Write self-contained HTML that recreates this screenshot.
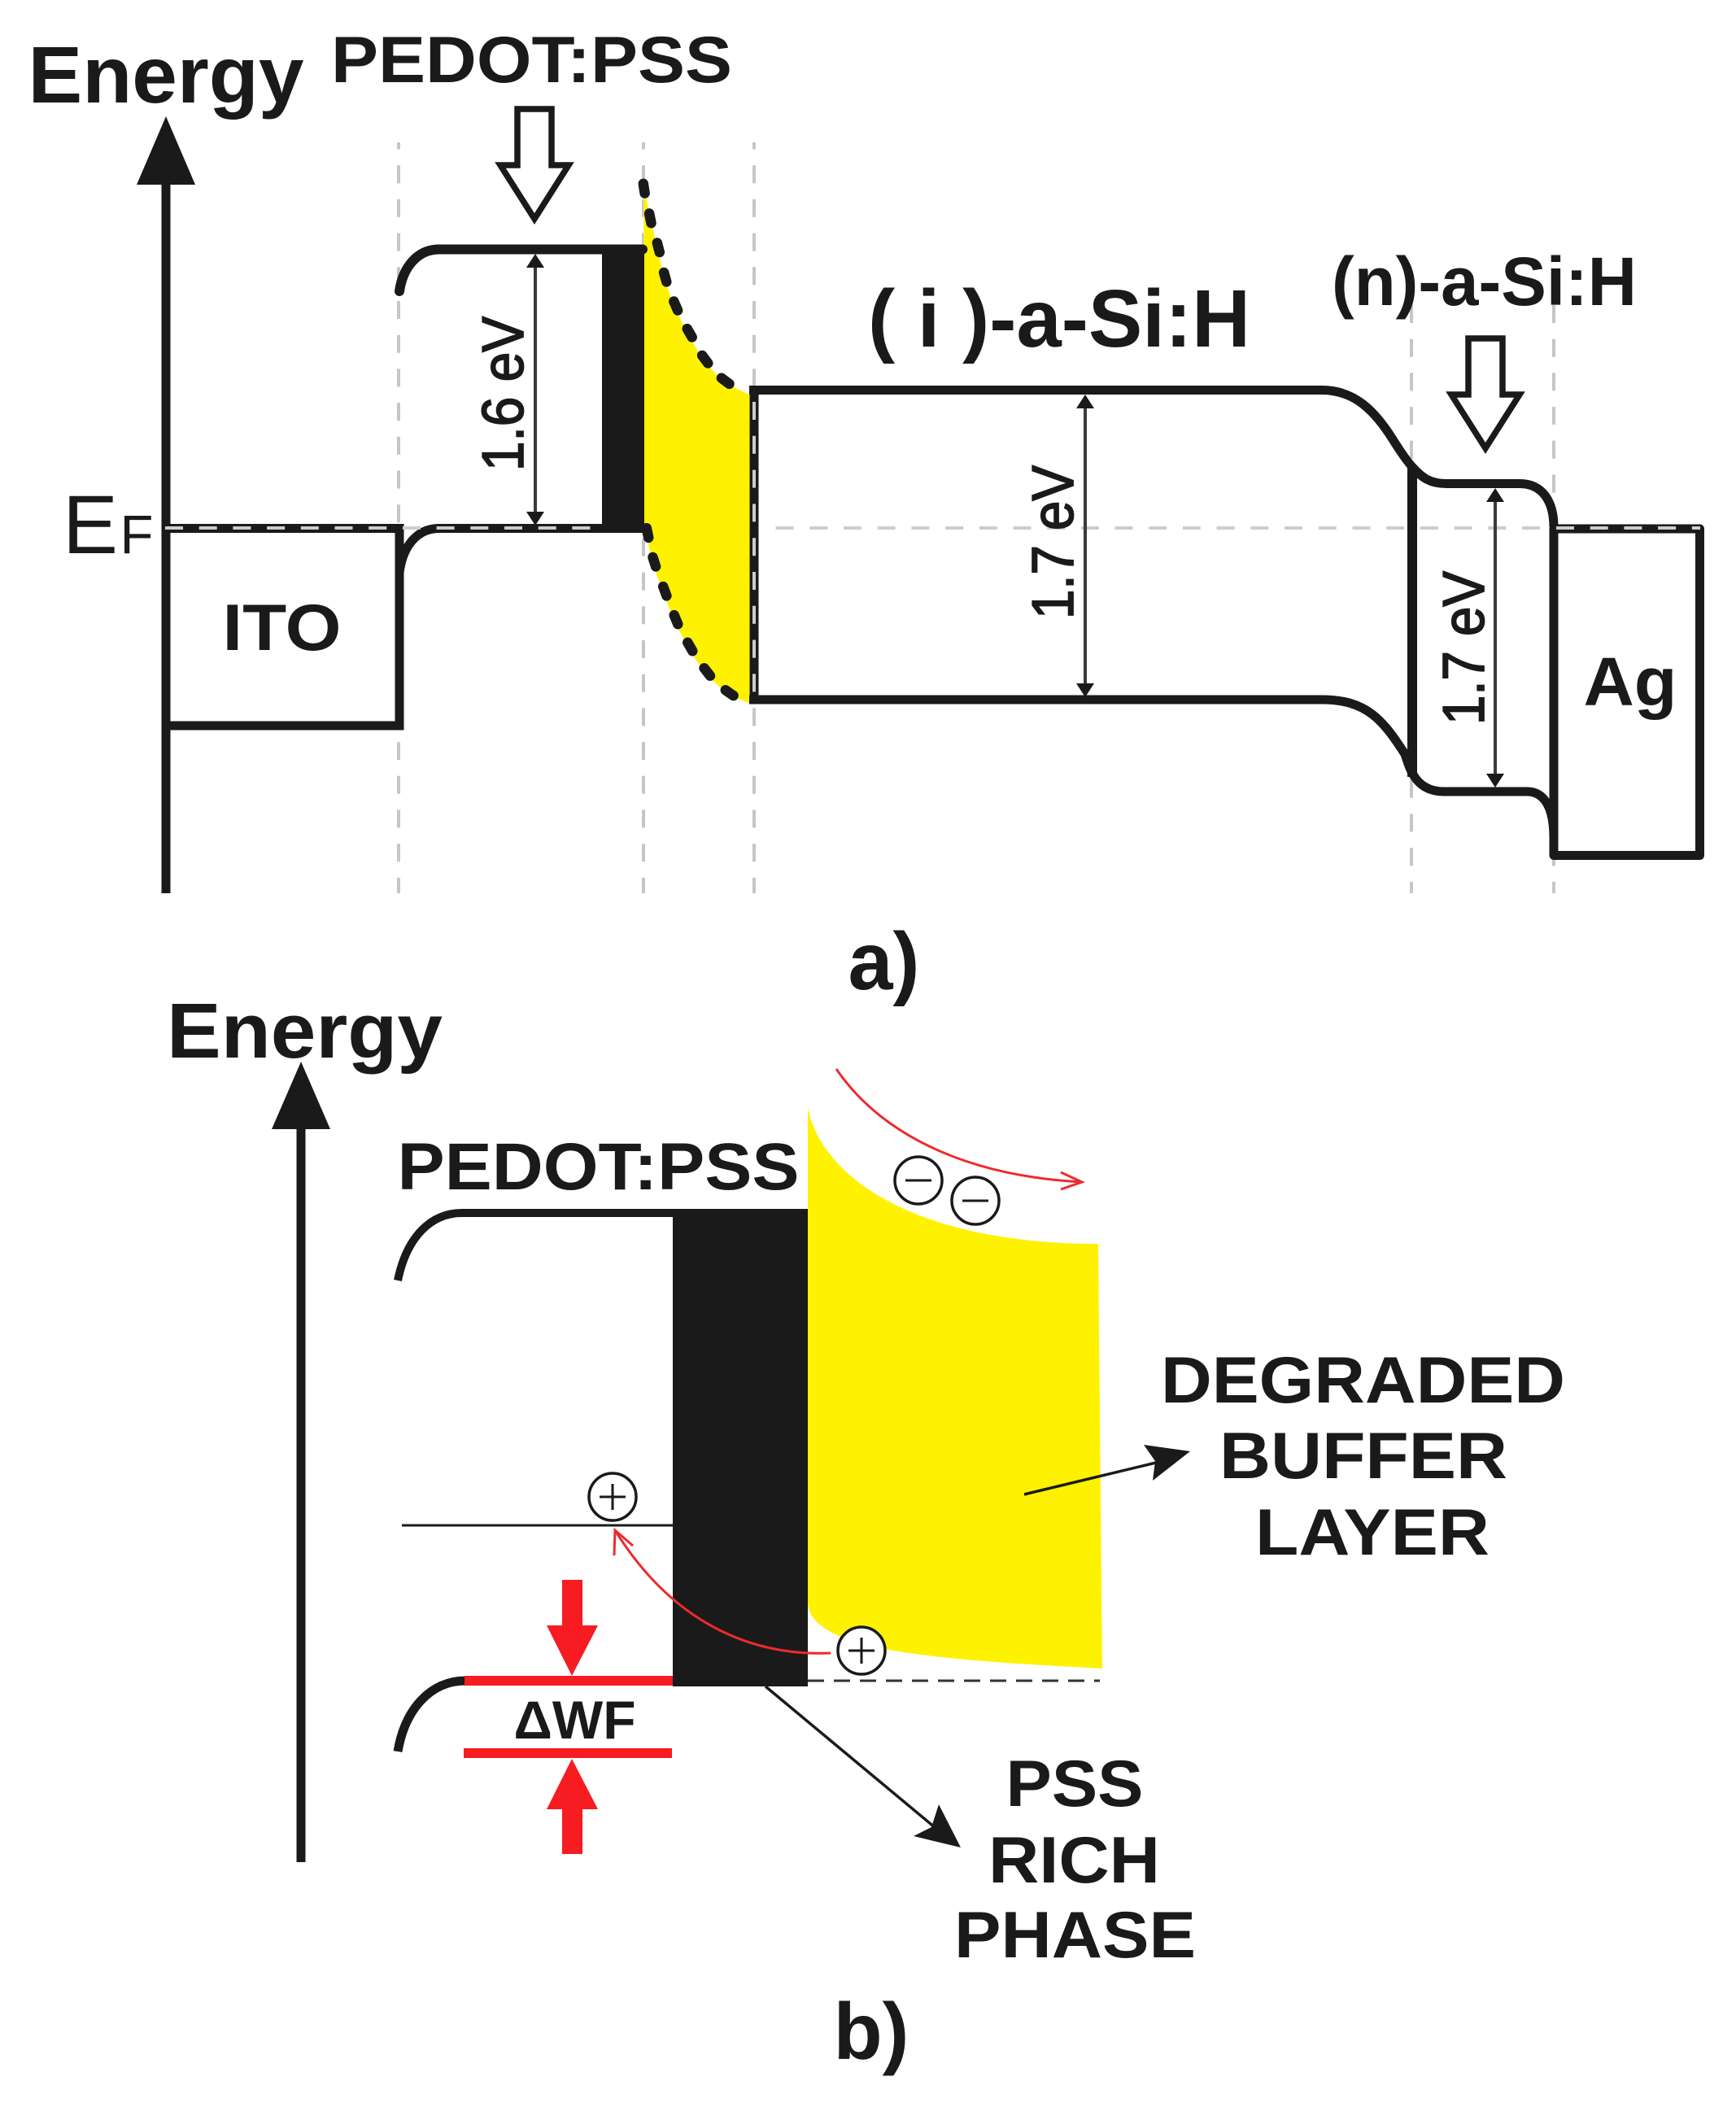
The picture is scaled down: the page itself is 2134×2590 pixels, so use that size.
<!DOCTYPE html>
<html>
<head>
<meta charset="utf-8">
<style>
html,body{margin:0;padding:0;background:#fff;}
svg{display:block;}
text{font-family:"Liberation Sans",sans-serif;fill:#1a1a1a;}
.b{font-weight:bold;}
</style>
</head>
<body>
<svg xmlns="http://www.w3.org/2000/svg" width="2134" height="2590" viewBox="0 0 2134 2590">
<rect width="2134" height="2590" fill="#fff"/>

<!-- PANEL A -->
<!-- dashed verticals -->
<g stroke="#c6c6c6" stroke-width="4" stroke-dasharray="22,19.7" stroke-dashoffset="13.5" fill="none">
<line x1="490" y1="175" x2="490" y2="1098"/>
<line x1="791" y1="175" x2="791" y2="1098"/>
<line x1="927" y1="175" x2="927" y2="1098"/>
<line x1="1735" y1="375" x2="1735" y2="1098" stroke-dashoffset="0"/>
<line x1="1910" y1="375" x2="1910" y2="1098" stroke-dashoffset="0"/>
</g>

<!-- yellow region -->
<path d="M791,225 L799,268 L808,304 L816,341 L829,378 L846,411 L865,444 L890,470 L925,487 L925,866 L895,854 L867,828 L846,797 L829,763 L815,728 L802,692 L794,655 L792,640 Z" fill="#fff200"/>

<!-- axis -->
<line x1="204" y1="200" x2="204" y2="1098" stroke="#1a1a1a" stroke-width="11"/>
<polygon points="204,143 240,227 168,227" fill="#1a1a1a"/>

<!-- fermi level dash overlay (under the bands) -->
<g stroke="#cdcdcd" stroke-width="4" fill="none">
<line x1="953.6" y1="649" x2="1905" y2="649" stroke-dasharray="22,19.7"/>
</g>

<g fill="none" stroke="#1a1a1a" stroke-width="11">
<!-- ITO box -->
<path d="M204,649.5 H491 V892 H204"/>
<!-- PEDOT -->
<path d="M491,358 C495,330 512,306.5 540,306.5 H790" stroke-linecap="round" stroke-width="12"/>
<path d="M491,704 C495,672 512,649.5 540,649.5 H792"/>
<!-- i layer -->
<path d="M921,479.5 H1625 C1665,479.5 1690,505 1712,540 C1722,556 1730,568 1738,576 C1748,587 1758,594.5 1778,594.5 H1868 C1895,594.5 1910,615 1910,648"/>
<path d="M921,860 H1625 C1680,860 1700,885 1727,927 C1733,945 1740,973 1775,973 H1877 C1898,973 1910,992 1910,1030"/>
<line x1="927" y1="476" x2="927" y2="864"/>
<line x1="1736" y1="572" x2="1736" y2="955" stroke-width="12"/>
<!-- Ag box -->
<path d="M1910,650 H2089.5 V1051.5 H1910 Z" stroke-linejoin="round"/>
</g>

<!-- fermi dashes over metal tops -->
<g stroke="#cdcdcd" stroke-width="4" fill="none">
<line x1="203" y1="649" x2="740" y2="649" stroke-dasharray="22,19.7"/>
<line x1="1913" y1="649" x2="2090" y2="649" stroke-dasharray="22,19.7"/>
<line x1="927" y1="494" x2="927" y2="860" stroke-dasharray="22,19.8"/>
</g>

<!-- black bar -->
<rect x="740" y="302" width="52" height="351" fill="#1a1a1a"/>

<!-- dashed band edges -->
<g fill="none" stroke="#1a1a1a" stroke-width="12.5" stroke-linecap="round">
<path d="M790.8,225.8 L792.6,237.6 M798.1,262.4 L800.5,274.2 M807.8,298.5 L810.8,310.1 M816.1,335 L819.3,346.4 M828.3,370.5 L833.1,381.5 M844.7,404.1 L850.7,414.5 M863.1,436.9 L870.3,446.5 M886.9,464.7 L896.5,471.9"/>
<path d="M794.8,649.1 L797.2,660.9 M802.5,685 L806.1,696.4 M815.2,721 L819.4,732.4 M828.7,756.2 L833.3,767.2 M845.3,789.8 L851.3,800.2 M865.6,821.3 L873,830.7 M891.8,848.3 L901.6,855.1"/>
</g>

<!-- hollow arrows -->
<polygon points="636,134 678,134 678,203 699,203 657,269 615,203 636,203" fill="#fff" stroke="#1a1a1a" stroke-width="7.5"/>
<polygon points="1805,416 1847,416 1847,485 1868,485 1826,551 1784,485 1805,485" fill="#fff" stroke="#1a1a1a" stroke-width="7.5"/>

<!-- double arrows -->
<g stroke="#3a3a3a" stroke-width="4" fill="#1a1a1a">
<line x1="658" y1="322" x2="658" y2="638"/>
<polygon stroke="none" points="658,312 669,329 647,329"/>
<polygon stroke="none" points="658,646 669,629 647,629"/>
<line x1="1334" y1="495" x2="1334" y2="848"/>
<polygon stroke="none" points="1334,485 1345,502 1323,502"/>
<polygon stroke="none" points="1334,857 1345,840 1323,840"/>
<line x1="1838" y1="608" x2="1838" y2="960"/>
<polygon stroke="none" points="1838,600 1849,617 1827,617"/>
<polygon stroke="none" points="1838,968 1849,951 1827,951"/>
</g>

<!-- panel A text -->
<text class="b" x="34.5" y="126" font-size="98" textLength="339" lengthAdjust="spacingAndGlyphs">Energy</text>
<text class="b" x="407" y="101" font-size="81" textLength="493" lengthAdjust="spacingAndGlyphs">PEDOT:PSS</text>
<text x="77" y="680" font-size="102">E</text>
<text x="147.5" y="680" font-size="67">F</text>
<text class="b" x="273.5" y="799" font-size="81" textLength="146" lengthAdjust="spacingAndGlyphs">ITO</text>
<text class="b" x="1067" y="426" font-size="100" textLength="470" lengthAdjust="spacingAndGlyphs">( i )-a-Si:H</text>
<text class="b" x="1637" y="375" font-size="84" textLength="375" lengthAdjust="spacingAndGlyphs">(n)-a-Si:H</text>
<text class="b" x="1946.5" y="867" font-size="84" textLength="115" lengthAdjust="spacingAndGlyphs">Ag</text>
<text transform="translate(643,579) rotate(-90)" font-size="72" textLength="190" lengthAdjust="spacingAndGlyphs" stroke="#1a1a1a" stroke-width="1.8">1.6 eV</text>
<text transform="translate(1319,761) rotate(-90)" font-size="72" textLength="189" lengthAdjust="spacingAndGlyphs" stroke="#1a1a1a" stroke-width="1.8">1.7 eV</text>
<text transform="translate(1824,891) rotate(-90)" font-size="72" textLength="189" lengthAdjust="spacingAndGlyphs" stroke="#1a1a1a" stroke-width="1.8">1.7 eV</text>
<text class="b" x="1042.5" y="1216" font-size="100" textLength="88" lengthAdjust="spacingAndGlyphs">a)</text>

<!-- PANEL B -->
<line x1="370" y1="1370" x2="370" y2="2289" stroke="#1a1a1a" stroke-width="11"/>
<polygon points="370,1305 406,1388 334,1388" fill="#1a1a1a"/>

<!-- yellow -->
<path d="M993,1361 C1010,1450 1130,1529 1350,1529 L1355,2051 C1150,2040 1000,2030 993,1972 Z" fill="#fff200"/>

<!-- black rect -->
<rect x="827" y="1491" width="166" height="582" fill="#1a1a1a"/>
<path d="M489,1574 C500,1520 530,1491 568,1491 H993" fill="none" stroke="#1a1a1a" stroke-width="10"/>
<path d="M489,2153 C498,2100 530,2066 572,2066" fill="none" stroke="#1a1a1a" stroke-width="11"/>
<line x1="494" y1="1875" x2="827" y2="1875" stroke="#1a1a1a" stroke-width="3"/>
<line x1="993" y1="2066" x2="1352" y2="2066" stroke="#333" stroke-width="3" stroke-dasharray="20,12"/>

<!-- red -->
<line x1="571" y1="2066" x2="827" y2="2066" stroke="#f61c22" stroke-width="12"/>
<line x1="570" y1="2155" x2="826" y2="2155" stroke="#f61c22" stroke-width="12"/>
<polygon points="691,1942 716,1942 716,1998 735,1998 703,2060 672,1998 691,1998" fill="#f61c22"/>
<polygon points="703,2162 735,2224 716,2224 716,2279 691,2279 691,2224 672,2224" fill="#f61c22"/>

<g fill="none" stroke="#ed2a2e" stroke-width="3">
<path d="M1021,2032 C930,2036 830,2000 756,1881"/>
<path d="M755,1912 L756,1881 L778,1900"/>
<path d="M1028,1314 C1080,1390 1180,1445 1330,1453"/>
<path d="M1304,1441 L1330,1453 L1304,1462"/>
</g>

<!-- charges -->
<g fill="#fff" stroke="#1a1a1a" stroke-width="3.5">
<circle cx="753" cy="1840" r="29"/>
<circle cx="1059" cy="2029" r="29"/>
<circle cx="1129" cy="1451" r="29"/>
<circle cx="1199" cy="1476" r="29"/>
</g>
<g stroke="#1a1a1a" stroke-width="3" fill="none">
<path d="M737,1840 H769 M753,1824 V1856"/>
<path d="M1043,2029 H1075 M1059,2013 V2045"/>
<path d="M1113,1451 H1145"/>
<path d="M1183,1476 H1215"/>
</g>

<!-- black arrows -->
<line x1="1259" y1="1837" x2="1425" y2="1797" stroke="#1a1a1a" stroke-width="3.5"/>
<polygon points="1463,1784 1406,1776 1420,1796 1417,1820" fill="#1a1a1a"/>
<path d="M941,2073 L1150,2247" stroke="#1a1a1a" stroke-width="3.5" fill="none"/>
<polygon points="1181,2271 1154,2218 1145,2246 1123,2257" fill="#1a1a1a"/>

<!-- panel B text -->
<text class="b" x="205" y="1300" font-size="96" textLength="339" lengthAdjust="spacingAndGlyphs">Energy</text>
<text class="b" x="488.5" y="1462" font-size="82" textLength="494" lengthAdjust="spacingAndGlyphs">PEDOT:PSS</text>
<text class="b" x="631.5" y="2137" font-size="66" textLength="150" lengthAdjust="spacingAndGlyphs">ΔWF</text>
<text class="b" x="1427" y="1724" font-size="81" textLength="497" lengthAdjust="spacingAndGlyphs">DEGRADED</text>
<text class="b" x="1499" y="1817" font-size="81" textLength="354" lengthAdjust="spacingAndGlyphs">BUFFER</text>
<text class="b" x="1543" y="1911" font-size="81" textLength="288" lengthAdjust="spacingAndGlyphs">LAYER</text>
<text class="b" x="1236.5" y="2220" font-size="81" textLength="169" lengthAdjust="spacingAndGlyphs">PSS</text>
<text class="b" x="1215" y="2314" font-size="81" textLength="211" lengthAdjust="spacingAndGlyphs">RICH</text>
<text class="b" x="1173" y="2406" font-size="81" textLength="297" lengthAdjust="spacingAndGlyphs">PHASE</text>
<text class="b" x="1024.5" y="2531" font-size="98" textLength="93" lengthAdjust="spacingAndGlyphs">b)</text>
</svg>
</body>
</html>
